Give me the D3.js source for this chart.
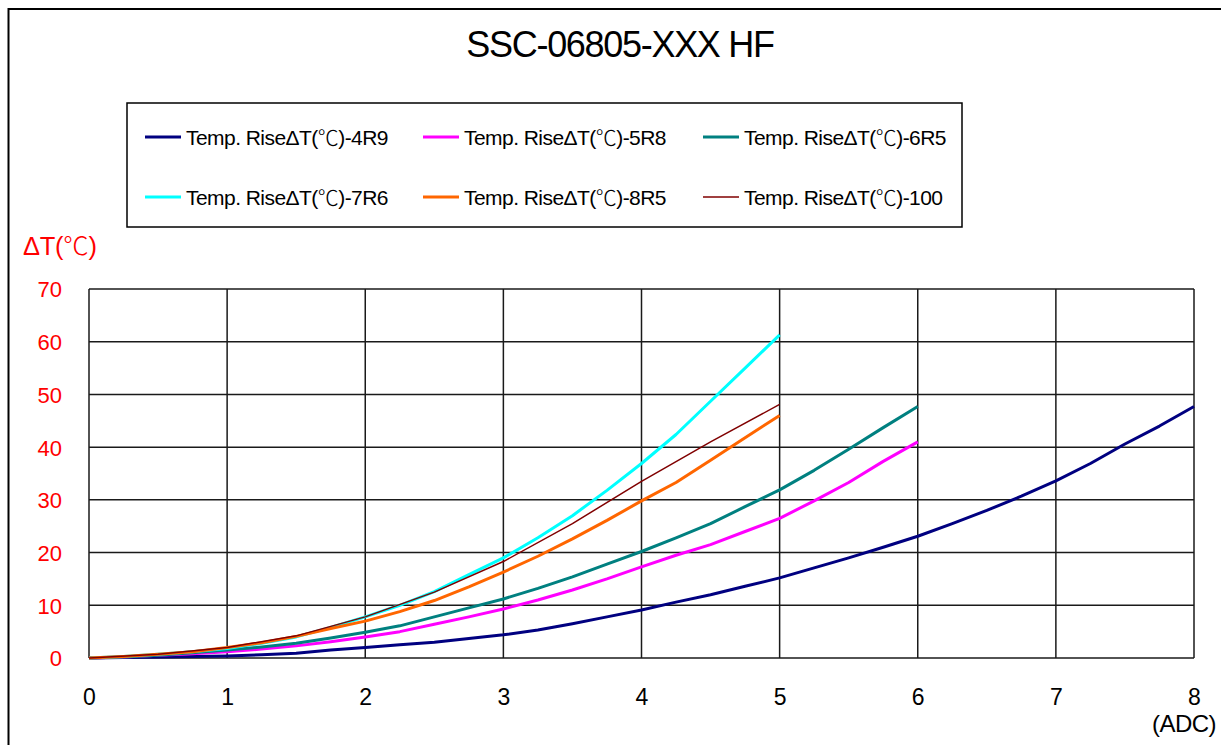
<!DOCTYPE html>
<html>
<head>
<meta charset="utf-8">
<script src="https://cdn.jsdelivr.net/npm/d3@7"></script>
<style>
  html, body { margin: 0; padding: 0; background: #fff; }
  svg { display: block; }
  text { font-family: "Liberation Sans", Arial, "Noto Sans CJK SC", sans-serif; }
</style>
</head>
<body>
<svg id="chart" width="1221" height="745"></svg>
<script>
const title = "SSC-06805-XXX HF";
const yLabel = "ΔT(℃)";
const xUnit = "(ADC)";
const xTicks = [0, 1, 2, 3, 4, 5, 6, 7, 8];
const yTicks = [0, 10, 20, 30, 40, 50, 60, 70];

const seriesNames = [
  "Temp. RiseΔT(℃)-4R9", "Temp. RiseΔT(℃)-5R8", "Temp. RiseΔT(℃)-6R5",
  "Temp. RiseΔT(℃)-7R6", "Temp. RiseΔT(℃)-8R5", "Temp. RiseΔT(℃)-100"
];
const seriesColors = ["#000080", "#FF00FF", "#008080", "#00FFFF", "#FF6600", "#800000"];
const seriesWidths = [3, 3, 3, 3, 3, 1.5];

const x4R9 = [0,0.25,0.5,0.75,1,1.25,1.5,1.75,2,2.25,2.5,2.75,3,3.25,3.5,3.75,4,4.25,4.5,4.75,5,5.25,5.5,5.75,6,6.25,6.5,6.75,7,7.25,7.5,7.75,8];
const y4R9 = [0,0.1,0.2,0.3,0.4,0.6,0.9,1.5,2.0,2.5,3.0,3.7,4.4,5.3,6.5,7.8,9.1,10.6,12.0,13.6,15.2,17.1,19.0,21.0,23.1,25.5,28.0,30.7,33.6,36.9,40.6,44.0,47.7];

const x5R8 = [0,0.25,0.5,0.75,1,1.25,1.5,1.75,2,2.25,2.5,2.75,3,3.25,3.5,3.75,4,4.25,4.5,4.75,5,5.25,5.5,5.75,6];
const y5R8 = [0,0.2,0.5,0.8,1.2,1.7,2.3,3.1,4.0,5.0,6.4,7.8,9.3,11.0,12.9,15.0,17.3,19.5,21.5,24.0,26.5,29.8,33.3,37.3,41.0];

const x6R5 = [0,0.25,0.5,0.75,1,1.25,1.5,1.75,2,2.25,2.5,2.75,3,3.25,3.5,3.75,4,4.25,4.5,4.75,5,5.25,5.5,5.75,6];
const y6R5 = [0,0.2,0.5,1.0,1.5,2.1,2.8,3.8,4.9,6.1,7.8,9.5,11.2,13.2,15.4,17.8,20.2,22.8,25.5,28.7,31.9,35.6,39.6,43.7,47.7];

const x7R6 = [0,0.25,0.5,0.75,1,1.25,1.5,1.75,2,2.25,2.5,2.75,3,3.25,3.5,3.75,4,4.25,4.5,4.75,5];
const y7R6 = [0,0.3,0.7,1.2,1.8,2.8,4.0,5.8,7.8,10.0,12.6,15.8,19.0,22.8,27.0,31.8,36.9,42.4,48.7,55.0,61.3];

const x8R5 = [0,0.25,0.5,0.75,1,1.25,1.5,1.75,2,2.25,2.5,2.75,3,3.25,3.5,3.75,4,4.25,4.5,4.75,5];
const y8R5 = [0,0.3,0.7,1.2,2.0,2.9,4.1,5.6,7.0,8.8,10.9,13.5,16.3,19.3,22.6,26.1,29.8,33.3,37.5,41.8,46.0];

const x100 = [0,0.5,1,1.5,2,2.5,3,3.5,4,4.5,5];
const y100 = [0,0.7,2.0,4.2,7.8,12.5,18.3,25.5,33.5,41.0,48.1];

const seriesX = [x4R9, x5R8, x6R5, x7R6, x8R5, x100];
const seriesY = [y4R9, y5R8, y6R5, y7R6, y8R5, y100];

const svg = d3.select("#chart");

// write a string, drawing the ℃ sign in a CJK font (full width)
function richText(sel, str) {
  const parts = str.split("℃");
  parts.forEach((p, k) => {
    if (p) sel.append("tspan").text(p);
    if (k < parts.length - 1) {
      sel.append("tspan").attr("font-family", "'Noto Sans CJK JP', 'Noto Sans CJK SC', sans-serif")
        .attr("font-weight", 300).text("℃");
    }
  });
  return sel;
}

// outer frame
svg.append("rect").attr("x", 8.5).attr("y", 9).attr("width", 1240).attr("height", 760)
  .attr("fill", "none").attr("stroke", "#000").attr("stroke-width", 2);

// title
svg.append("text").attr("x", 620).attr("y", 57).attr("text-anchor", "middle")
  .attr("font-size", 36).attr("letter-spacing", -1.3).attr("fill", "#000").text(title);

// legend
const lg = svg.append("g");
lg.append("rect").attr("x", 127).attr("y", 103).attr("width", 835).attr("height", 124)
  .attr("fill", "#fff").attr("stroke", "#000").attr("stroke-width", 1.5);
const colX = [145, 423, 703];
const rowY = [137, 197];
seriesNames.forEach((n, i) => {
  const cx = colX[i % 3], cy = rowY[Math.floor(i / 3)];
  lg.append("line").attr("x1", cx).attr("x2", cx + 36).attr("y1", cy).attr("y2", cy)
    .attr("stroke", seriesColors[i]).attr("stroke-width", seriesWidths[i] === 3 ? 3 : 1.5);
  const t = lg.append("text").attr("x", cx + 41).attr("y", cy + 7.5).attr("font-size", 21)
    .attr("letter-spacing", -0.55).attr("fill", "#000");
  richText(t, n);
});

// scales
const xs = d3.scaleLinear().domain([0, 8]).range([89, 1194]);
const ys = d3.scaleLinear().domain([0, 70]).range([658, 289]);

// grid
const grid = svg.append("g");
grid.selectAll(".vg").data(xTicks).join("line")
  .attr("x1", d => xs(d)).attr("x2", d => xs(d)).attr("y1", ys(70)).attr("y2", ys(0))
  .attr("stroke", "#1a1a1a").attr("stroke-width", 1.5);
grid.selectAll(".hg").data(yTicks).join("line")
  .attr("x1", xs(0)).attr("x2", xs(8)).attr("y1", d => ys(d)).attr("y2", d => ys(d))
  .attr("stroke", "#1a1a1a").attr("stroke-width", 1.5);

// axes (labels only)
const xAxis = d3.axisBottom(xs).tickValues(xTicks).tickSize(0).tickPadding(0).tickFormat(d3.format("d"));
const gx = svg.append("g").attr("transform", `translate(0,${ys(0)})`).call(xAxis);
gx.select(".domain").remove();
gx.selectAll("text").attr("font-size", 23).attr("fill", "#000").attr("dy", null)
  .attr("y", 47).attr("font-family", "'Liberation Sans', Arial, sans-serif");

const yAxis = d3.axisLeft(ys).tickValues(yTicks).tickSize(0).tickPadding(0).tickFormat(d3.format("d"));
const gy = svg.append("g").attr("transform", `translate(62,0)`).call(yAxis);
gy.select(".domain").remove();
gy.selectAll("text").attr("font-size", 22).attr("fill", "#FF0000").attr("dy", "0.36em")
  .attr("x", 0).attr("font-family", "'Liberation Sans', Arial, sans-serif");

// axis titles
richText(svg.append("text").attr("x", 23).attr("y", 255).attr("font-size", 25.5)
  .attr("letter-spacing", -0.3).attr("fill", "#FF0000"), yLabel);
svg.append("text").attr("x", 1184).attr("y", 732).attr("text-anchor", "middle")
  .attr("font-size", 24).attr("letter-spacing", -0.5).attr("fill", "#000").text(xUnit);

// series
const line = d3.line().x(d => xs(d[0])).y(d => ys(d[1]));
const lines = svg.append("g");
seriesNames.forEach((n, i) => {
  const pts = seriesX[i].map((xv, j) => [xv, seriesY[i][j]]);
  lines.append("path").datum(pts).attr("d", line).attr("fill", "none")
    .attr("stroke", seriesColors[i]).attr("stroke-width", seriesWidths[i])
    .attr("stroke-linejoin", "round");
});
</script>
</body>
</html>
